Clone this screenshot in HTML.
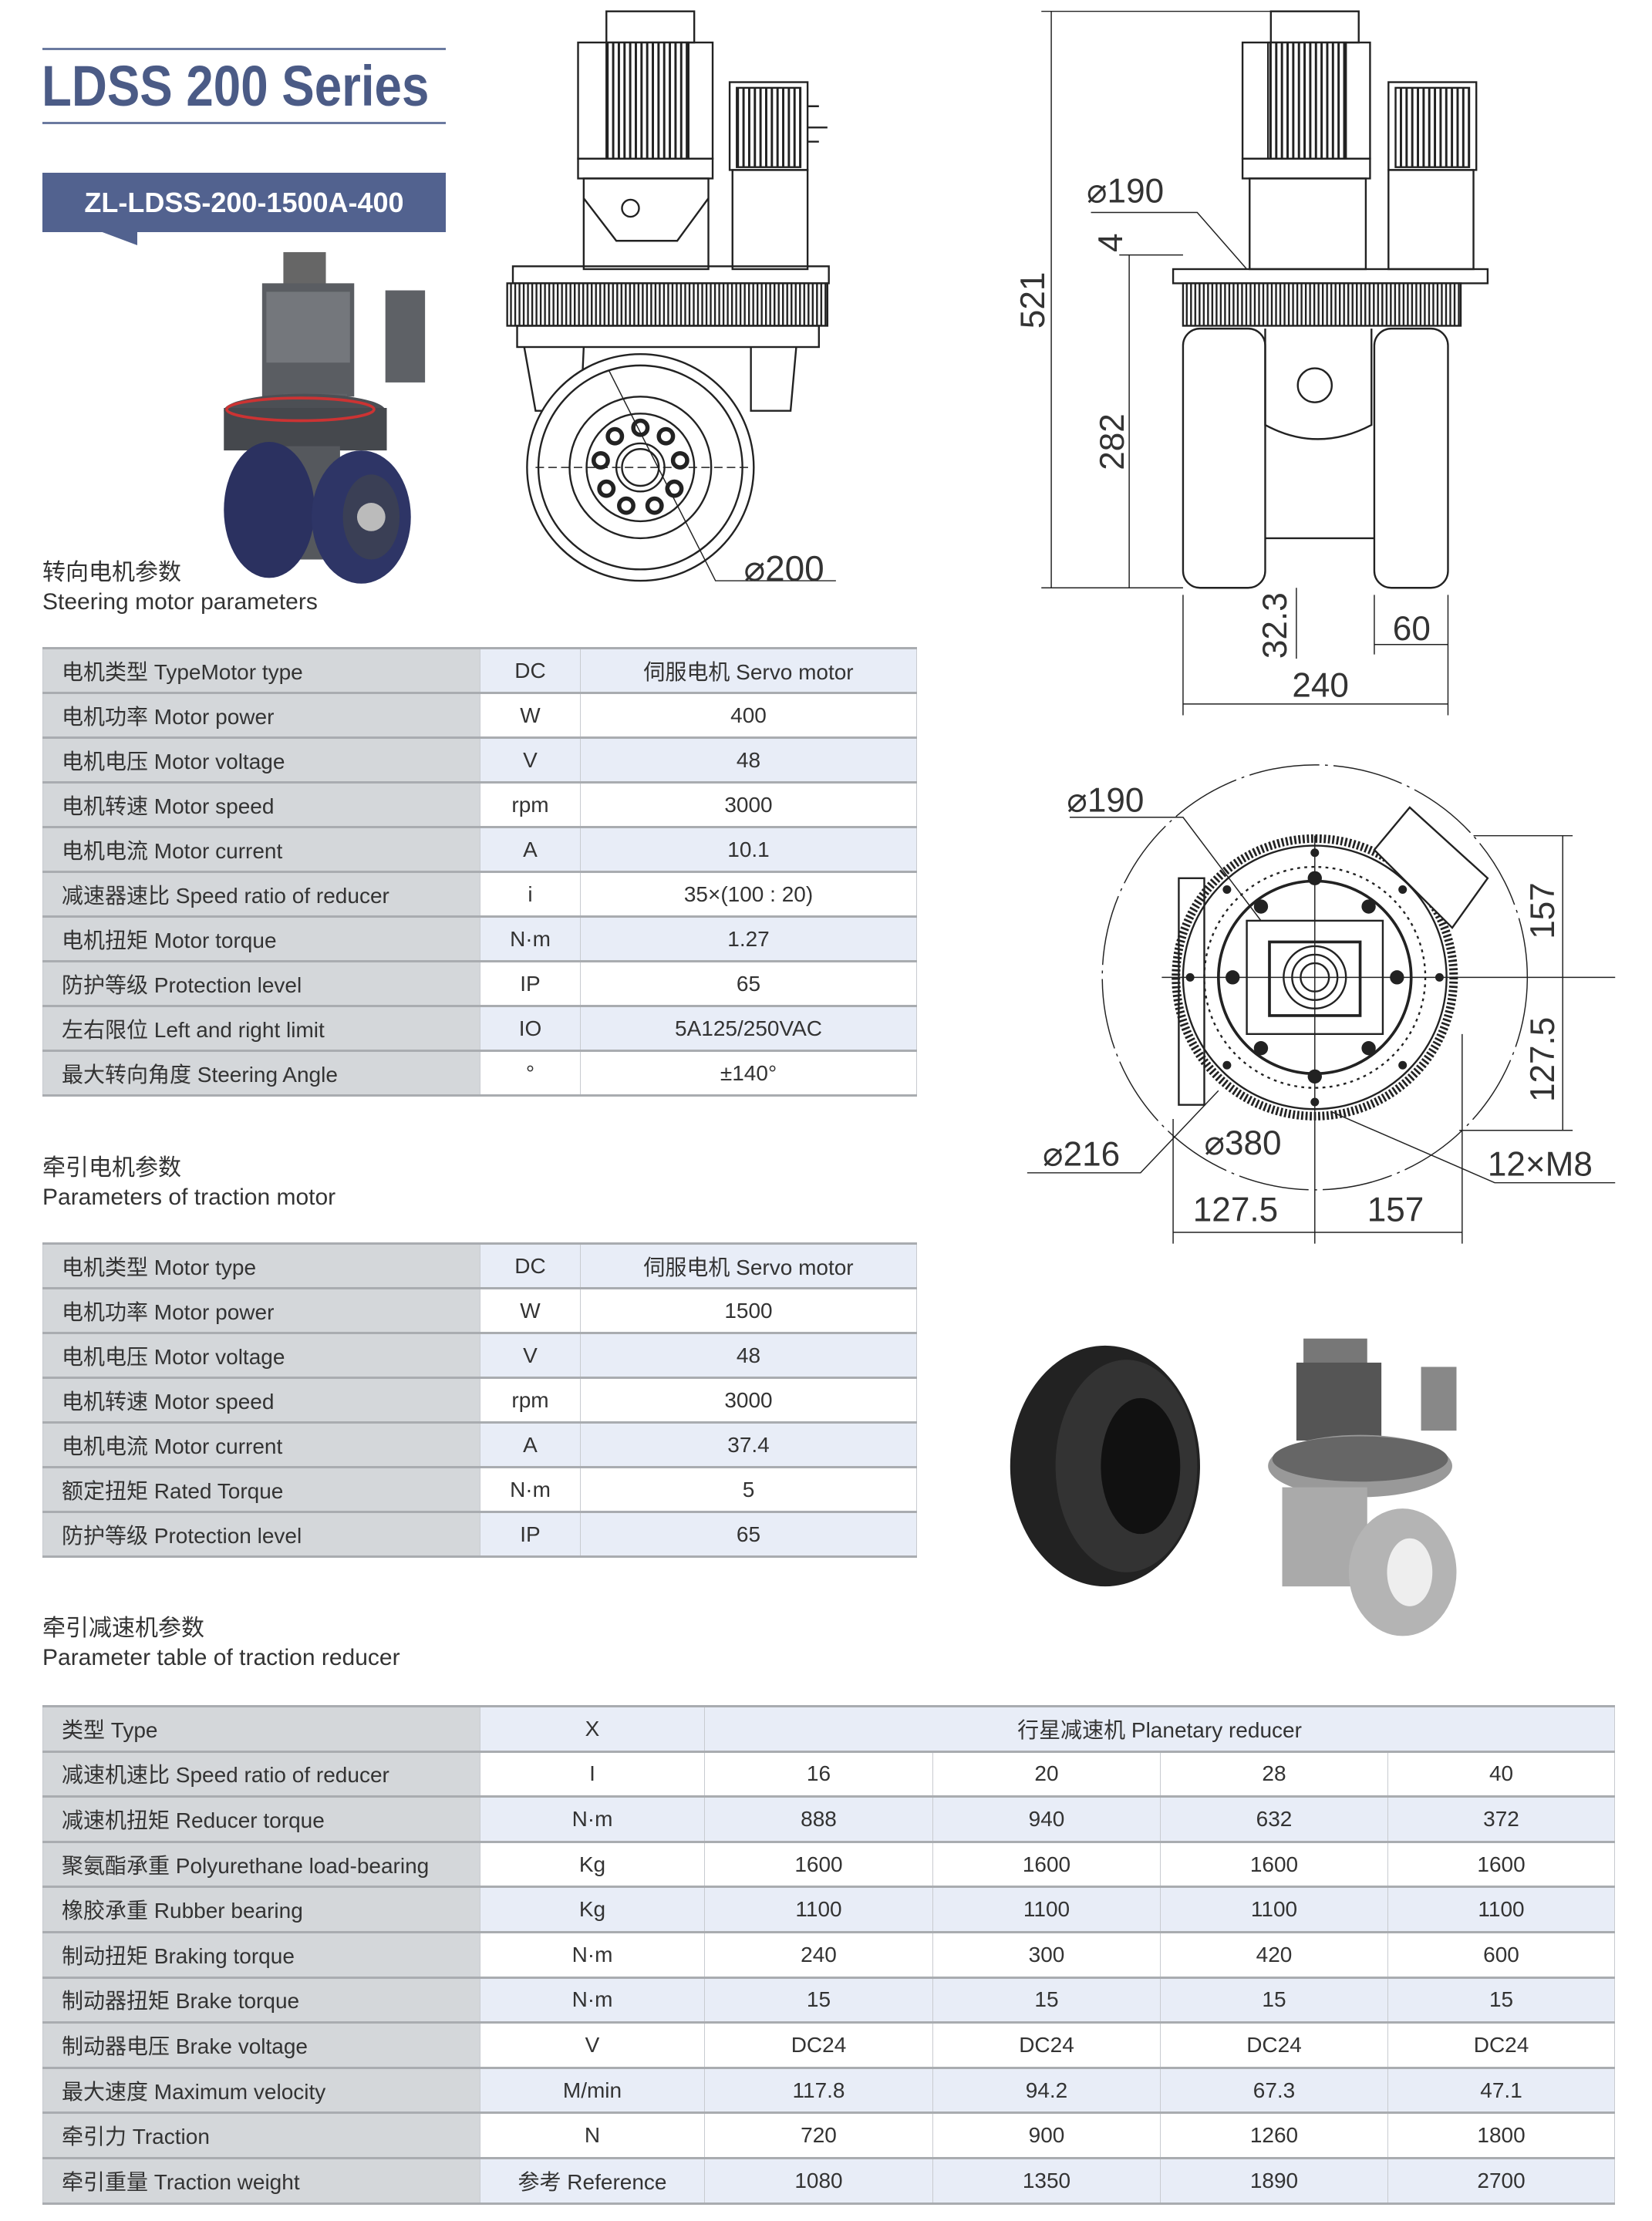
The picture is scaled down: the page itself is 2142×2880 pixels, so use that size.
<!DOCTYPE html>
<html><head><meta charset="utf-8">
<style>
*{margin:0;padding:0;box-sizing:border-box}
body{width:2142px;height:2880px;background:#fff;position:relative;overflow:hidden;font-family:"Liberation Sans","Noto Sans CJK SC",sans-serif;color:#333}
.abs{position:absolute}
table{position:absolute;border-collapse:collapse;font-size:28px;color:#333;table-layout:fixed}
td{border:3px solid #a9acb0;border-left:1px solid #c8cbd0;border-right:1px solid #c8cbd0;text-align:center;white-space:nowrap;padding:0}
td.l{background:#d4d7da;text-align:left;padding-left:24px}
tr.b td{background:#e8edf7}
tr.w td{background:#fff}
tr td.l{background:#d4d7da}
.sec{position:absolute;left:55px;font-size:30px;line-height:38px;color:#333}
</style></head><body>

<div class="abs" style="left:55px;top:62px;width:523px;height:3px;background:#6b7aa0"></div>
<div class="abs" style="left:55px;top:158px;width:523px;height:3px;background:#6b7aa0"></div>
<div class="abs" style="left:54px;top:68px;font-size:74px;line-height:88px;color:#4b5b86;font-weight:bold;transform:scaleX(0.86);transform-origin:left;white-space:nowrap">LDSS&nbsp;200&nbsp;Series</div>

<div class="abs" style="left:55px;top:224px;width:523px;height:77px;background:#52628f"></div>
<svg class="abs" style="left:130px;top:300px" width="50" height="20"><polygon points="0,0 48,0 48,18" fill="#52628f"/></svg>
<div class="abs" style="left:55px;top:224px;width:523px;height:77px;line-height:77px;text-align:center;color:#fff;font-weight:bold;font-size:36px">ZL-LDSS-200-1500A-400</div>

<div class="sec" style="top:724px">转向电机参数<br>Steering motor parameters</div>
<div class="sec" style="top:1496px">牵引电机参数<br>Parameters of traction motor</div>
<div class="sec" style="top:2093px">牵引减速机参数<br>Parameter table of traction reducer</div>

<table style="left:55px;top:839px;width:1133px">
<colgroup><col style="width:567px"><col style="width:130px"><col style="width:436px"></colgroup>
<tr class="b" style="height:58px"><td class="l">电机类型 TypeMotor type</td><td>DC</td><td>伺服电机 Servo motor</td></tr>
<tr class="w" style="height:58px"><td class="l">电机功率 Motor power</td><td>W</td><td>400</td></tr>
<tr class="b" style="height:58px"><td class="l">电机电压 Motor voltage</td><td>V</td><td>48</td></tr>
<tr class="w" style="height:58px"><td class="l">电机转速 Motor speed</td><td>rpm</td><td>3000</td></tr>
<tr class="b" style="height:58px"><td class="l">电机电流 Motor current</td><td>A</td><td>10.1</td></tr>
<tr class="w" style="height:58px"><td class="l">减速器速比 Speed ratio of reducer</td><td>i</td><td>35×(100 : 20)</td></tr>
<tr class="b" style="height:58px"><td class="l">电机扭矩 Motor torque</td><td>N·m</td><td>1.27</td></tr>
<tr class="w" style="height:58px"><td class="l">防护等级 Protection level</td><td>IP</td><td>65</td></tr>
<tr class="b" style="height:58px"><td class="l">左右限位 Left and right limit</td><td>IO</td><td>5A125/250VAC</td></tr>
<tr class="w" style="height:58px"><td class="l">最大转向角度 Steering Angle</td><td>°</td><td>±140°</td></tr>
</table>

<table style="left:55px;top:1611px;width:1133px">
<colgroup><col style="width:567px"><col style="width:130px"><col style="width:436px"></colgroup>
<tr class="b" style="height:58px"><td class="l">电机类型 Motor type</td><td>DC</td><td>伺服电机 Servo motor</td></tr>
<tr class="w" style="height:58px"><td class="l">电机功率 Motor power</td><td>W</td><td>1500</td></tr>
<tr class="b" style="height:58px"><td class="l">电机电压 Motor voltage</td><td>V</td><td>48</td></tr>
<tr class="w" style="height:58px"><td class="l">电机转速 Motor speed</td><td>rpm</td><td>3000</td></tr>
<tr class="b" style="height:58px"><td class="l">电机电流 Motor current</td><td>A</td><td>37.4</td></tr>
<tr class="w" style="height:58px"><td class="l">额定扭矩 Rated Torque</td><td>N·m</td><td>5</td></tr>
<tr class="b" style="height:58px"><td class="l">防护等级 Protection level</td><td>IP</td><td>65</td></tr>
</table>

<table style="left:55px;top:2211px;width:2038px">
<colgroup><col style="width:567px"><col style="width:291px"><col style="width:296px"><col style="width:295px"><col style="width:295px"><col style="width:294px"></colgroup>
<tr class="b" style="height:58.6px"><td class="l">类型 Type</td><td>X</td><td colspan="4">行星减速机 Planetary reducer</td></tr>
<tr class="w" style="height:58.6px"><td class="l">减速机速比 Speed ratio of reducer</td><td>I</td><td>16</td><td>20</td><td>28</td><td>40</td></tr>
<tr class="b" style="height:58.6px"><td class="l">减速机扭矩 Reducer torque</td><td>N·m</td><td>888</td><td>940</td><td>632</td><td>372</td></tr>
<tr class="w" style="height:58.6px"><td class="l">聚氨酯承重 Polyurethane load-bearing</td><td>Kg</td><td>1600</td><td>1600</td><td>1600</td><td>1600</td></tr>
<tr class="b" style="height:58.6px"><td class="l">橡胶承重 Rubber bearing</td><td>Kg</td><td>1100</td><td>1100</td><td>1100</td><td>1100</td></tr>
<tr class="w" style="height:58.6px"><td class="l">制动扭矩 Braking torque</td><td>N·m</td><td>240</td><td>300</td><td>420</td><td>600</td></tr>
<tr class="b" style="height:58.6px"><td class="l">制动器扭矩 Brake torque</td><td>N·m</td><td>15</td><td>15</td><td>15</td><td>15</td></tr>
<tr class="w" style="height:58.6px"><td class="l">制动器电压 Brake voltage</td><td>V</td><td>DC24</td><td>DC24</td><td>DC24</td><td>DC24</td></tr>
<tr class="b" style="height:58.6px"><td class="l">最大速度 Maximum velocity</td><td>M/min</td><td>117.8</td><td>94.2</td><td>67.3</td><td>47.1</td></tr>
<tr class="w" style="height:58.6px"><td class="l">牵引力 Traction</td><td>N</td><td>720</td><td>900</td><td>1260</td><td>1800</td></tr>
<tr class="b" style="height:58.6px"><td class="l">牵引重量 Traction weight</td><td>参考 Reference</td><td>1080</td><td>1350</td><td>1890</td><td>2700</td></tr>
</table>

<svg class="abs" style="left:0;top:0" width="2142" height="2880" viewBox="0 0 1166 1568" preserveAspectRatio="none" font-family="Liberation Sans, sans-serif">
<defs>
<pattern id="fin" width="4" height="10" patternUnits="userSpaceOnUse"><rect width="4" height="10" fill="#fff"/><rect width="1.6" height="10" fill="#222"/></pattern>
<pattern id="gear" width="3" height="10" patternUnits="userSpaceOnUse"><rect width="3" height="10" fill="#fff"/><rect width="1.3" height="10" fill="#222"/></pattern>
</defs>
<g>
<rect x="200" y="178" width="30" height="25" fill="#666"/>
<rect x="185" y="200" width="65" height="80" fill="#5a5d62"/>
<rect x="188" y="206" width="59" height="50" fill="#74777c"/>
<rect x="272" y="205" width="28" height="65" fill="#5e6166"/>
<rect x="200" y="278" width="45" height="40" fill="#606368"/>
<ellipse cx="215" cy="290" rx="57" ry="12" fill="#4c4f54"/>
<rect x="158" y="288" width="115" height="30" fill="#45484d"/>
<ellipse cx="212" cy="289" rx="52" ry="8" fill="none" stroke="#c33" stroke-width="2"/>
<rect x="185" y="315" width="55" height="80" fill="#55585d"/>
<ellipse cx="190" cy="360" rx="32" ry="48" fill="#2b3160"/>
<ellipse cx="255" cy="365" rx="35" ry="47" fill="#2e3566"/>
<ellipse cx="262" cy="365" rx="20" ry="30" fill="#3a3f55"/>
<circle cx="262" cy="365" r="10" fill="#bbb"/>
</g>
<g fill="none" stroke="#222" stroke-width="1.3">
<rect x="428" y="8" width="62" height="22"/>
<rect x="408" y="30" width="95" height="82"/>
<rect x="428" y="30" width="58" height="82" fill="url(#fin)"/>
<rect x="408" y="112" width="95" height="14"/>
<rect x="412" y="126" width="88" height="64"/>
<path d="M412 140 L435 170 L478 170 L500 140"/>
<circle cx="445" cy="147" r="6"/>
<rect x="515" y="58" width="55" height="62"/>
<rect x="520" y="62" width="45" height="56" fill="url(#fin)"/>
<rect x="517" y="120" width="53" height="70"/>
<path d="M570 75 h8 M570 90 h14 M570 100 h8"/>
<rect x="362" y="188" width="223" height="12"/>
<rect x="358" y="200" width="226" height="30" fill="url(#gear)"/>
<rect x="365" y="230" width="213" height="15"/>
<path d="M370 245 L378 290 L410 290 L412 245 M530 245 L530 290 L558 290 L562 245"/>
<circle cx="452" cy="330" r="80" fill="#fff"/>
<circle cx="452" cy="330" r="72"/>
<circle cx="452" cy="330" r="50"/>
<circle cx="452" cy="330" r="38"/>
<circle cx="452" cy="330" r="17"/>
<circle cx="452" cy="330" r="13"/>
<g stroke-width="3"><circle cx="452" cy="302" r="5"/><circle cx="470" cy="308" r="5"/><circle cx="480" cy="325" r="5"/><circle cx="476" cy="345" r="5"/><circle cx="462" cy="357" r="5"/><circle cx="442" cy="357" r="5"/><circle cx="428" cy="345" r="5"/><circle cx="424" cy="325" r="5"/><circle cx="434" cy="308" r="5"/></g>
<path d="M378 330 H530" stroke-dasharray="6 3" stroke-width="0.8"/>
<path d="M430 262 L505 410 H590" stroke-width="0.8"/>
</g>
<text x="525" y="410" font-size="25" fill="#333">⌀200</text>
<g fill="none" stroke="#222" stroke-width="1.3">
<rect x="897" y="8" width="62" height="22"/>
<rect x="877" y="30" width="90" height="82"/>
<rect x="895" y="30" width="55" height="82" fill="url(#fin)"/>
<rect x="877" y="112" width="90" height="14"/>
<rect x="882" y="126" width="82" height="64"/>
<rect x="980" y="58" width="62" height="62"/>
<rect x="985" y="62" width="52" height="56" fill="url(#fin)"/>
<rect x="980" y="120" width="60" height="70"/>
<rect x="828" y="190" width="222" height="10"/>
<rect x="835" y="200" width="196" height="30" fill="url(#gear)"/>
<rect x="835" y="232" width="58" height="183" rx="12" fill="#fff"/>
<rect x="970" y="232" width="52" height="183" rx="12" fill="#fff"/>
<path d="M893 232 V300 Q930 320 968 300 V232"/>
<circle cx="928" cy="272" r="12"/>
<path d="M893 380 H970"/>
<g stroke-width="0.8">
<path d="M742 8 V415 M735 8 H900 M735 415 H835 M797 180 V415 M790 180 H835"/>
<path d="M835 420 V505 M1022 420 V505 M835 497 H1022 M970 420 V462 M970 455 H1022 M915 415 V465"/>
<path d="M770 150 L845 150 L880 190"/>
</g>
</g>
<g font-size="24" fill="#333">
<text x="767" y="143">⌀190</text>
<text transform="translate(792,178) rotate(-90)">4</text>
<text transform="translate(737,232) rotate(-90)">521</text>
<text transform="translate(793,332) rotate(-90)">282</text>
<text transform="translate(908,465) rotate(-90)">32.3</text>
<text x="983" y="452">60</text>
<text x="912" y="492">240</text>
</g>
<g fill="none" stroke="#222" stroke-width="1.3">
<circle cx="928" cy="690" r="150" stroke-dasharray="50 4 2 4" stroke-width="0.8"/>
<circle cx="928" cy="690" r="98" stroke="#222" stroke-width="6" stroke-dasharray="1.5 1.5"/>
<circle cx="928" cy="690" r="93"/>
<circle cx="928" cy="690" r="78" stroke-dasharray="2 3"/>
<circle cx="928" cy="690" r="68" stroke-width="2"/>
<rect x="880" y="650" width="96" height="80"/>
<rect x="896" y="665" width="64" height="52" stroke-width="2"/>
<circle cx="928" cy="690" r="22"/><circle cx="928" cy="690" r="16"/><circle cx="928" cy="690" r="10"/>
<rect x="832" y="620" width="18" height="160"/>
<path d="M970 600 L995 570 L1050 620 L1025 655 Z" fill="#fff"/>
<g fill="#222" stroke="none">
<circle cx="928" cy="620" r="5"/><circle cx="928" cy="760" r="5"/><circle cx="870" cy="690" r="5"/><circle cx="986" cy="690" r="5"/>
<circle cx="890" cy="640" r="5"/><circle cx="966" cy="640" r="5"/><circle cx="890" cy="740" r="5"/><circle cx="966" cy="740" r="5"/>
<circle cx="928" cy="602" r="3"/><circle cx="928" cy="778" r="3"/><circle cx="840" cy="690" r="3"/><circle cx="1016" cy="690" r="3"/>
<circle cx="866" cy="628" r="3"/><circle cx="990" cy="628" r="3"/><circle cx="866" cy="752" r="3"/><circle cx="990" cy="752" r="3"/>
</g>
<g stroke-width="0.8">
<path d="M820 690 H1140 M928 590 V878"/>
<path d="M1040 590 H1110 M1030 798 H1110 M1103 590 V798"/>
<path d="M828 790 V878 M1032 730 V878 M828 870 H1032"/>
<path d="M755 577 H835 L890 650"/>
<path d="M725 828 H805 L860 770"/>
<path d="M940 785 L1055 835 H1140"/>
</g>
</g>
<g font-size="24" fill="#333">
<text x="753" y="573">⌀190</text>
<text transform="translate(1097,663) rotate(-90)">157</text>
<text transform="translate(1097,778) rotate(-90)">127.5</text>
<text x="736" y="823">⌀216</text>
<text x="850" y="815">⌀380</text>
<text x="1050" y="830">12×M8</text>
<text x="842" y="862">127.5</text>
<text x="965" y="862">157</text>
</g>
<ellipse cx="780" cy="1035" rx="67" ry="85" fill="#222"/>
<ellipse cx="795" cy="1035" rx="50" ry="75" fill="#333"/>
<ellipse cx="805" cy="1035" rx="28" ry="48" fill="#111"/>
<g>
<rect x="920" y="945" width="45" height="20" fill="#777"/>
<rect x="915" y="962" width="60" height="55" fill="#555"/>
<rect x="1003" y="965" width="25" height="45" fill="#888"/>
<ellipse cx="960" cy="1035" rx="65" ry="22" fill="#999"/>
<ellipse cx="960" cy="1030" rx="62" ry="16" fill="#666"/>
<rect x="905" y="1050" width="60" height="70" fill="#aaa"/>
<ellipse cx="990" cy="1110" rx="38" ry="45" fill="#b4b4b4"/>
<ellipse cx="995" cy="1110" rx="16" ry="24" fill="#eee"/>
</g>
</svg>
</body></html>
